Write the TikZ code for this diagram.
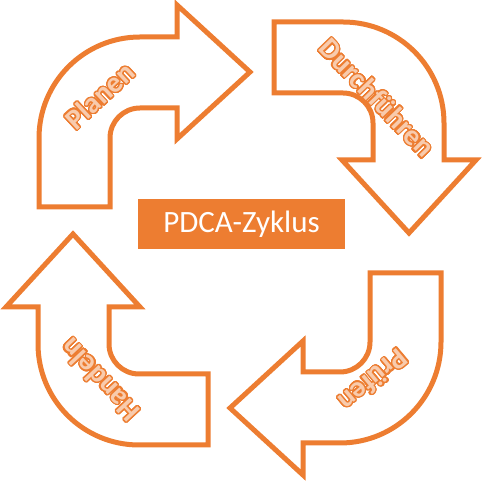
\documentclass[tikz,border=0pt]{standalone}
\usepackage{fontspec}
\setmainfont{Carlito}
\usepackage{contour}
\contourlength{1.2pt}
\contournumber{32}
\definecolor{office}{HTML}{ED7D31}
\definecolor{pale}{HTML}{F8CBAD}
\tikzset{
  bentarrow/.style={draw=office, fill=white, line width=5pt, line join=miter, miter limit=10},
  lbl/.style={inner sep=0pt, text=pale, font=\bfseries\fontsize{29}{29}\selectfont},
  titlebox/.style={fill=office, text=white, minimum width=207pt, minimum height=50pt, inner sep=0pt, font=\fontsize{31}{31}\selectfont}
}
\newcommand\bentshape{%
  \path[bentarrow] (-101,-69) -- (-101,0) arc[start angle=180,end angle=90,radius=101]
    -- (37,101) -- (37,133) -- (110,66) -- (37,-1) -- (37,30) -- (0,30)
    arc[start angle=90,end angle=180,radius=30] -- (-30,-69) -- cycle;}
\begin{document}
\begin{tikzpicture}[x=1pt,y=1pt]
\useasboundingbox (0,0) rectangle (484,481);
\begin{scope}[shift={(140,343)}]\bentshape\end{scope}
\begin{scope}[shift={(343,358)},rotate=-90]\bentshape\end{scope}
\begin{scope}[shift={(340,139)},rotate=180]\bentshape\end{scope}
\begin{scope}[shift={(139,137)},rotate=90]\bentshape\end{scope}
\node[lbl, rotate=43] (planen) at (100,385) {\contour{office}{Planen}};
\node[lbl, rotate=-46] (durch) at (377,383) {\contour{office}{Durchführen}};
\node[lbl, rotate=220] (pruefen) at (373,101) {\contour{office}{Prüfen}};
\node[lbl, rotate=133] (handeln) at (100,101) {\contour{office}{Handeln}};
\node[titlebox] (title) at (241.5,257) {PDCA-Zyklus};
\end{tikzpicture}
\end{document}
